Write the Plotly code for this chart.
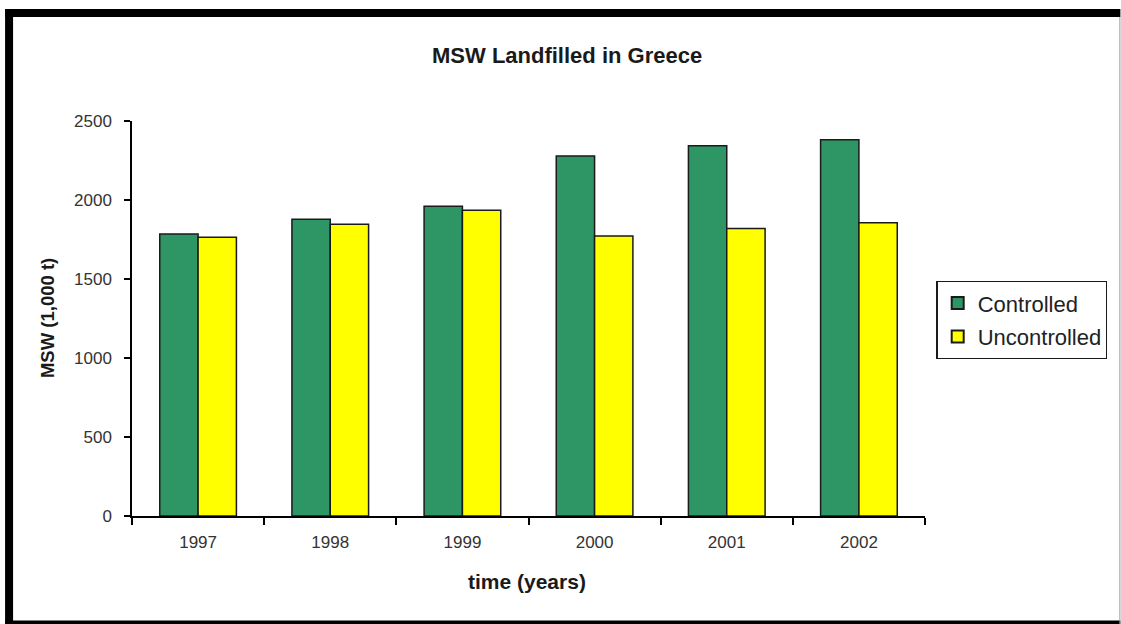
import plotly.graph_objects as go

years = ["1997", "1998", "1999", "2000", "2001", "2002"]
controlled = [1785, 1878, 1960, 2278, 2344, 2382]
uncontrolled = [1764, 1846, 1935, 1772, 1820, 1856]
y_ticks = [0, 500, 1000, 1500, 2000, 2500]

W, H = 1121, 624
L, R, T, B = 132, 925.5, 121, 516

def px(x):
    return (x - L) / (R - L)

def py(y):
    return (B - y) / (B - T)

FONT = "Liberation Sans, Arial, sans-serif"

fig = go.Figure()
fig.add_trace(go.Bar(x=years, y=controlled, name="Controlled", legendgroup="c",
                     marker=dict(color="#2E9664", line=dict(color="#1a1a1a", width=1.5))))
fig.add_trace(go.Bar(x=years, y=uncontrolled, name="Uncontrolled", legendgroup="u",
                     marker=dict(color="#FFFF00", line=dict(color="#1a1a1a", width=1.5))))

shapes = [
    dict(type="rect", xref="paper", yref="paper", x0=px(5), x1=px(13), y0=py(624), y1=py(9),
         fillcolor="black", line=dict(width=0), layer="above"),
    dict(type="rect", xref="paper", yref="paper", x0=px(5), x1=px(1121), y0=py(17), y1=py(9),
         fillcolor="black", line=dict(width=0), layer="above"),
    dict(type="rect", xref="paper", yref="paper", x0=px(5), x1=px(1121), y0=py(624), y1=py(620.5),
         fillcolor="black", line=dict(width=0), layer="above"),
    dict(type="line", xref="paper", yref="paper", x0=px(1120.5), x1=px(1120.5), y0=py(624), y1=py(17),
         line=dict(color="#999999", width=1)),
]

annotations = [
    dict(text="<b>MSW Landfilled in Greece</b>", xref="paper", yref="paper",
         x=px(567.5), y=py(55.5), xanchor="center", yanchor="middle", showarrow=False,
         font=dict(family=FONT, size=22, color="#1a1a1a")),
    dict(text="<b>time (years)</b>", xref="paper", yref="paper",
         x=px(527), y=py(581), xanchor="center", yanchor="middle", showarrow=False,
         font=dict(family=FONT, size=21, color="#1a1a1a")),
    dict(text="<b>MSW (1,000 t)</b>", xref="paper", yref="paper", textangle=-90,
         x=px(47), y=py(318), xanchor="center", yanchor="middle", showarrow=False,
         font=dict(family=FONT, size=18.5, color="#1a1a1a")),
]

fig.update_layout(
    width=W, height=H,
    margin=dict(l=L, r=W - R, t=T, b=H - B, pad=0),
    paper_bgcolor="white", plot_bgcolor="white",
    barmode="group", bargap=0.42, bargroupgap=0,
    font=dict(family=FONT, size=17, color="#333333"),
    shapes=shapes, annotations=annotations,
    legend=dict(x=px(937), y=py(281), xanchor="left", yanchor="top",
                bordercolor="#1a1a1a", borderwidth=1.2, bgcolor="white",
                font=dict(family=FONT, size=22, color="#222222"),
                tracegroupgap=2, itemsizing="constant"),
    showlegend=True,
)
fig.update_xaxes(type="category", showline=True, linecolor="black", linewidth=1.5,
                 ticks="outside", tickson="boundaries", ticklen=7, tickcolor="black",
                 tickwidth=1.5, showgrid=False, tickfont=dict(size=17, color="#333333"),
                 range=[-0.5, 5.5], ticklabelstandoff=10)
fig.update_yaxes(range=[0, 2500], tickvals=y_ticks, showline=True, linecolor="black",
                 linewidth=1.5, ticks="outside", ticklen=6, tickcolor="black", tickwidth=1.5,
                 showgrid=False, zeroline=False, tickfont=dict(size=17, color="#333333"),
                 ticklabelstandoff=9)

fig.write_html("out.html")
